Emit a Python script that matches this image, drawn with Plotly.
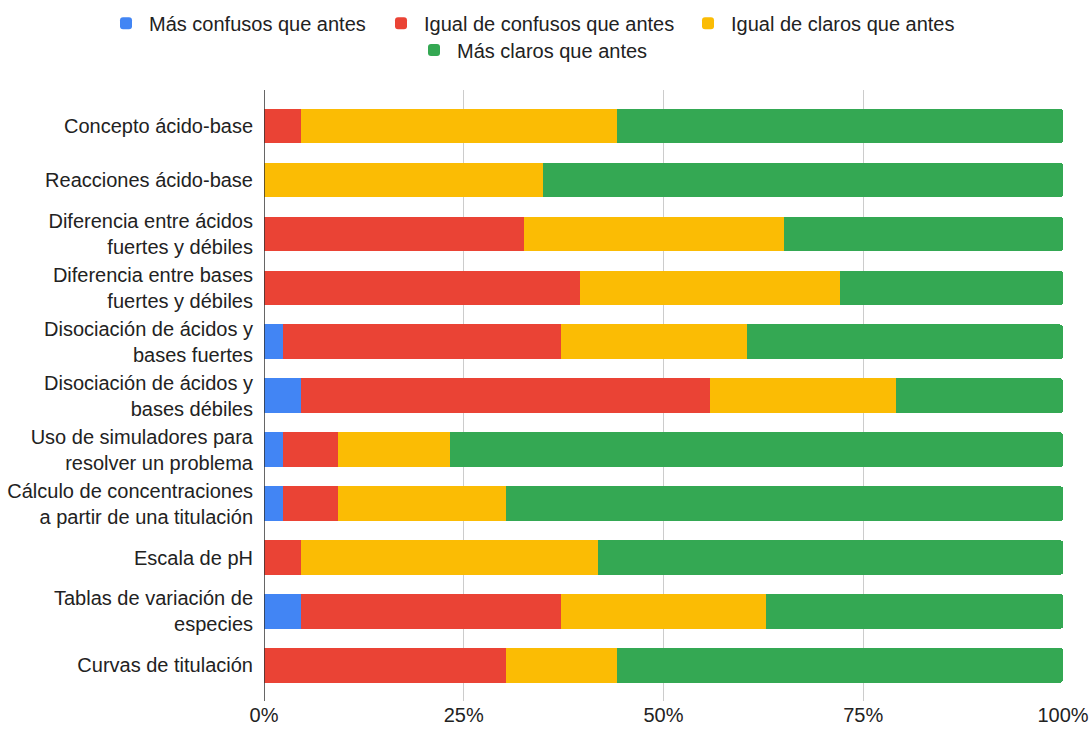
import plotly.graph_objects as go

categories = [
    "Concepto ácido-base",
    "Reacciones ácido-base",
    "Diferencia entre ácidos<br>fuertes y débiles",
    "Diferencia entre bases<br>fuertes y débiles",
    "Disociación de ácidos y<br>bases fuertes",
    "Disociación de ácidos y<br>bases débiles",
    "Uso de simuladores para<br>resolver un problema",
    "Cálculo de concentraciones<br>a partir de una titulación",
    "Escala de pH",
    "Tablas de variación de<br>especies",
    "Curvas de titulación",
]

series_names = [
    "Más confusos que antes",
    "Igual de confusos que antes",
    "Igual de claros que antes",
    "Más claros que antes",
]

mas_confusos = [0, 0, 0, 0, 1, 2, 1, 1, 0, 2, 0]
igual_confusos = [2, 0, 14, 17, 15, 22, 3, 3, 2, 14, 13]
igual_claros = [17, 15, 14, 14, 10, 10, 6, 9, 16, 11, 6]
mas_claros = [24, 28, 15, 12, 17, 9, 33, 30, 25, 16, 24]

x_tick_vals = [0, 25, 50, 75, 100]
x_tick_text = ["0%", "25%", "50%", "75%", "100%"]

colors = ["#4285F4", "#EA4335", "#FBBC04", "#34A853"]
series_values = [mas_confusos, igual_confusos, igual_claros, mas_claros]

font_family = "Arial, Liberation Sans, sans-serif"
fs = 20
W, H = 1091, 729

legend_ids = ["legend", "legend2", "legend3", "legend4"]
legend_left_px = [103, 378, 685, 411]
legend_top = [0.995, 0.995, 0.995, 0.958]

fig = go.Figure()
for name, vals, col, lid in zip(series_names, series_values, colors, legend_ids):
    fig.add_trace(go.Bar(
        y=categories, x=vals, name=name, orientation="h",
        marker=dict(color=col, line=dict(width=0)),
        legend=lid, showlegend=True,
    ))

legend_common = dict(
    orientation="h", xref="container", yref="container",
    xanchor="left", yanchor="top",
    font=dict(family=font_family, size=fs, color="#222222"),
    bgcolor="rgba(0,0,0,0)", itemclick=False, itemwidth=36,
)
legends = {lid: dict(x=lx / W, y=ly, **legend_common)
           for lid, lx, ly in zip(legend_ids, legend_left_px, legend_top)}

fig.update_layout(
    width=W, height=H, showlegend=True,
    barmode="stack", barnorm="percent", bargap=0.36,
    barcornerradius=3,
    plot_bgcolor="white", paper_bgcolor="white",
    margin=dict(l=264, r=28, t=90, b=28),
    font=dict(family=font_family, size=fs, color="#222222"),
    xaxis=dict(
        range=[0, 100], tickmode="array", tickvals=x_tick_vals, ticktext=x_tick_text,
        showgrid=True, gridcolor="#cccccc", gridwidth=1,
        zeroline=False, showline=False, ticks="", automargin=False,
        tickfont=dict(size=fs, color="#222222"),
    ),
    yaxis=dict(
        type="category", categoryorder="array", categoryarray=categories,
        range=[10.66, -0.667], showgrid=False, ticks="", automargin=False,
        tickfont=dict(size=fs, color="#222222"), ticklabelstandoff=10,
    ),
    **legends,
)
fig.add_shape(type="line", xref="x", yref="paper", x0=0, x1=0, y0=0, y1=1,
              line=dict(color="#333333", width=1.5))

fig.write_html("out.html")
